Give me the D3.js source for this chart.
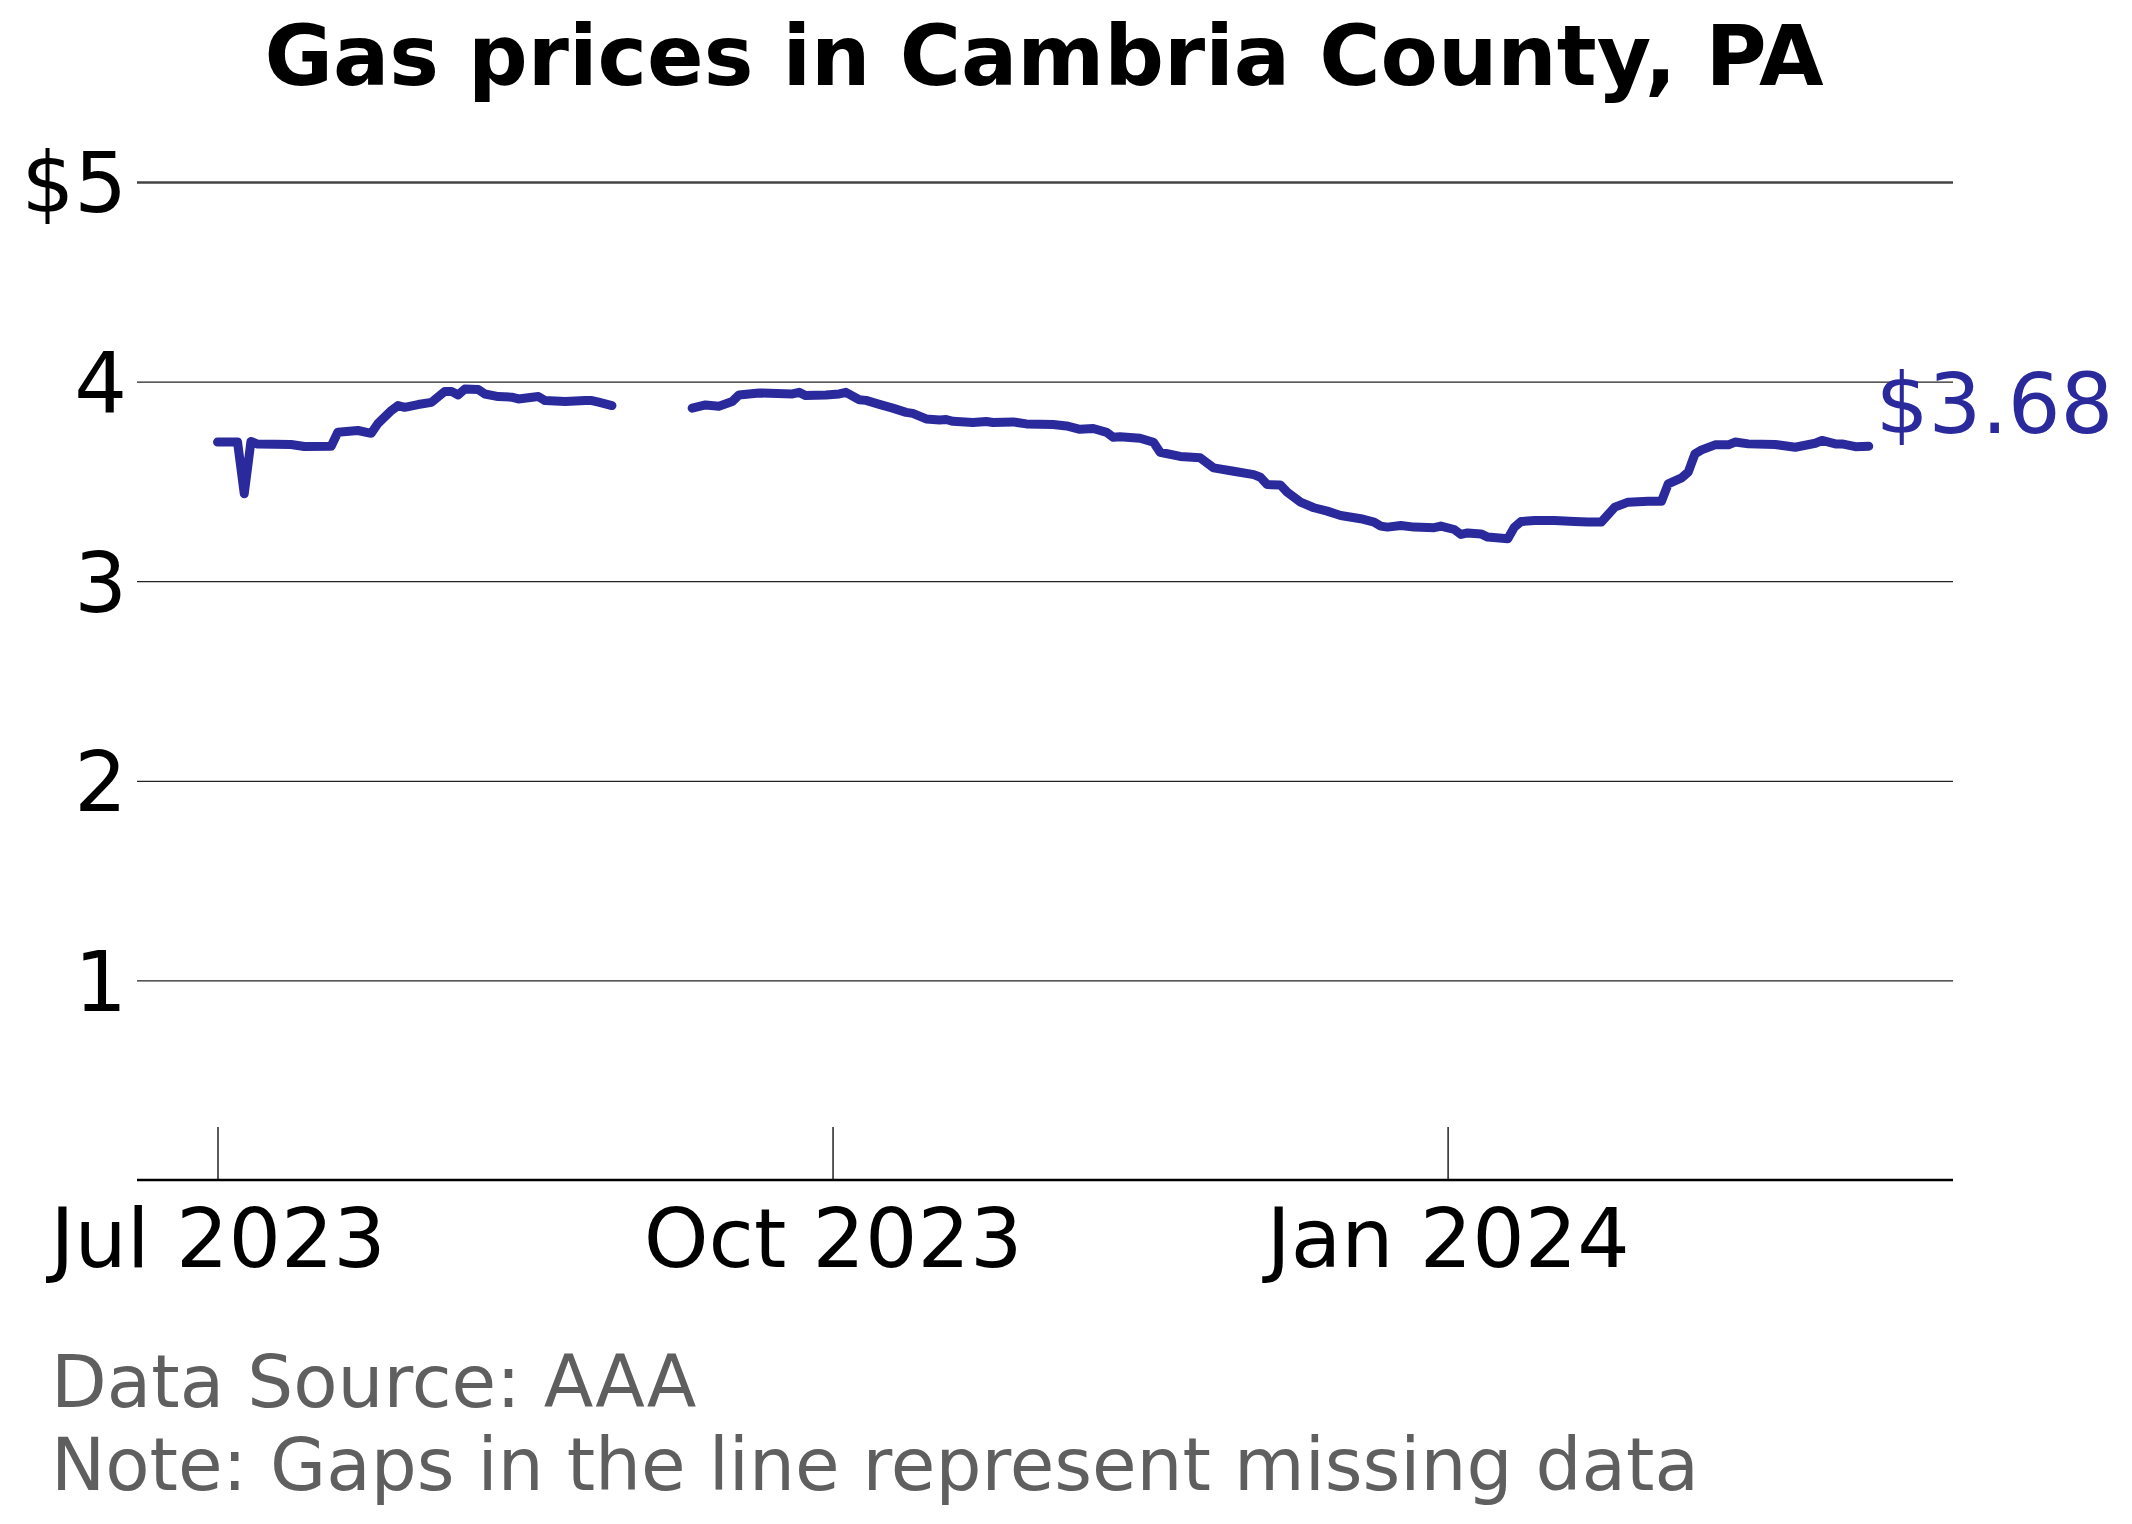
<!DOCTYPE html>
<html>
<head>
<meta charset="utf-8">
<script src="https://cdn.jsdelivr.net/npm/d3@7"></script>
<style>
  body { margin: 0; background: #fff; }
  svg { display: block; font-family: "DejaVu Sans", sans-serif; }
</style>
</head>
<body>
<div id="chart"></div>
<script>
// --- data (null = missing day, makes the gap) ---
const dates = [
  "2023-07-01","2023-07-04","2023-07-05","2023-07-06","2023-07-07","2023-07-12","2023-07-14","2023-07-18",
  "2023-07-19","2023-07-22","2023-07-24","2023-07-25","2023-07-27","2023-07-28","2023-07-29","2023-07-31",
  "2023-08-02","2023-08-04","2023-08-05","2023-08-06","2023-08-07","2023-08-09","2023-08-10","2023-08-12",
  "2023-08-14","2023-08-15","2023-08-18","2023-08-19","2023-08-22","2023-08-25","2023-08-26","2023-08-27",
  "2023-08-29",
  "2023-09-04",
  "2023-09-10","2023-09-12","2023-09-14","2023-09-16","2023-09-17","2023-09-20","2023-09-25","2023-09-26",
  "2023-09-27","2023-09-30","2023-10-02","2023-10-03","2023-10-05","2023-10-06","2023-10-08","2023-10-10",
  "2023-10-12","2023-10-13","2023-10-15","2023-10-17","2023-10-18","2023-10-19","2023-10-22","2023-10-24",
  "2023-10-25","2023-10-28","2023-10-30","2023-11-03","2023-11-05","2023-11-07","2023-11-09","2023-11-11",
  "2023-11-12","2023-11-13","2023-11-16","2023-11-18","2023-11-19","2023-11-22","2023-11-25","2023-11-27",
  "2023-11-30","2023-12-03","2023-12-04","2023-12-05","2023-12-07","2023-12-08","2023-12-10","2023-12-12",
  "2023-12-14","2023-12-16","2023-12-19","2023-12-21","2023-12-22","2023-12-23","2023-12-25","2023-12-27",
  "2023-12-30","2023-12-31","2024-01-02","2024-01-03","2024-01-04","2024-01-06","2024-01-07","2024-01-10",
  "2024-01-11","2024-01-12","2024-01-14","2024-01-17","2024-01-20","2024-01-22","2024-01-24","2024-01-26",
  "2024-01-28","2024-01-31","2024-02-02","2024-02-03","2024-02-05","2024-02-06","2024-02-07","2024-02-08",
  "2024-02-10","2024-02-12","2024-02-13","2024-02-15","2024-02-19","2024-02-22","2024-02-25","2024-02-26",
  "2024-02-28","2024-02-29","2024-03-02","2024-03-04"
];
const prices = [
  3.697,3.697,3.438,3.700,3.687,3.685,3.675,3.676,
  3.746,3.755,3.741,3.790,3.855,3.880,3.871,3.885,
  3.896,3.951,3.951,3.933,3.963,3.960,3.938,3.925,
  3.922,3.913,3.925,3.905,3.900,3.905,3.905,3.897,
  3.880,
  null,
  3.867,3.883,3.877,3.900,3.933,3.943,3.938,3.946,
  3.930,3.933,3.938,3.946,3.909,3.906,3.886,3.867,
  3.846,3.841,3.813,3.808,3.810,3.801,3.795,3.800,
  3.795,3.798,3.788,3.785,3.778,3.761,3.765,3.746,
  3.721,3.724,3.716,3.696,3.646,3.625,3.618,3.568,
  3.551,3.534,3.521,3.484,3.482,3.446,3.396,3.368,
  3.351,3.329,3.313,3.296,3.276,3.271,3.279,3.271,
  3.268,3.276,3.259,3.234,3.242,3.237,3.221,3.213,
  3.271,3.299,3.304,3.304,3.299,3.296,3.296,3.371,
  3.396,3.400,3.401,3.488,3.518,3.547,3.638,3.658,
  3.683,3.683,3.697,3.688,3.685,3.671,3.691,3.705,
  3.688,3.688,3.674,3.676
];

const xTickDates = ["2023-07-01", "2023-10-01", "2024-01-01"];
const xTickLabels = ["Jul 2023", "Oct 2023", "Jan 2024"];
const yTicks = [1, 2, 3, 4, 5];
const yTickLabels = ["1", "2", "3", "4", "$5"];

const titleText = "Gas prices in Cambria County, PA";
const noteLines = ["Data Source: AAA", "Note: Gaps in the line represent missing data"];

// --- setup ---
const width = 2132;
const height = 1524;
const lineColor = "#2b2a9c";
const plotLeft = 137, plotRight = 1953;

const parse = d3.utcParse("%Y-%m-%d");
const series = dates.map((d, i) => ({ date: parse(d), value: prices[i] }));

const svg = d3.select("#chart").append("svg")
  .attr("width", width)
  .attr("height", height);

// time scale pinned on the Jul 2023 / Jan 2024 ticks
const x = d3.scaleUtc()
  .domain([parse("2023-07-01"), parse("2024-01-01")])
  .range([217.5, 1447.6]);

const y = d3.scaleLinear()
  .domain([0, 5])
  .range([1180, 182]);

// title
svg.append("text")
  .attr("x", 1044)
  .attr("y", 85)
  .attr("text-anchor", "middle")
  .attr("font-size", 83.5)
  .attr("font-weight", "bold")
  .attr("fill", "#000")
  .text(titleText);

// horizontal grid + y labels
const yAxis = d3.axisLeft(y)
  .tickValues(yTicks)
  .tickSize(0)
  .tickPadding(10)
  .tickFormat((d, i) => yTickLabels[i]);

const yg = svg.append("g")
  .attr("transform", `translate(${plotLeft},0)`)
  .call(yAxis);
yg.select(".domain").remove();
yg.selectAll(".tick text")
  .attr("font-size", 83)
  .attr("font-family", "DejaVu Sans")
  .attr("fill", "#000")
  .attr("dy", "0.36em");
yg.selectAll(".tick").append("line")
  .attr("x1", 0)
  .attr("x2", plotRight - plotLeft)
  .attr("stroke", d => d === 5 ? "#444" : "#222")
  .attr("stroke-width", d => d === 5 ? 2.7 : 1.3);

// x axis: ticks point up into the plot
const xAxis = d3.axisBottom(x)
  .tickValues(xTickDates.map(parse))
  .tickSizeInner(-53)
  .tickSizeOuter(0)
  .tickPadding(24)
  .tickFormat((d, i) => xTickLabels[i]);

const xg = svg.append("g")
  .attr("transform", `translate(0,${y(0)})`)
  .call(xAxis);
xg.select(".domain").remove();
xg.selectAll(".tick line").attr("stroke", "#000").attr("stroke-width", 1.3);
xg.selectAll(".tick text")
  .attr("font-size", 82.5)
  .attr("font-family", "DejaVu Sans")
  .attr("fill", "#000")
  .attr("dy", "0.76em");

xg.append("line")
  .attr("x1", plotLeft)
  .attr("x2", plotRight)
  .attr("stroke", "#000")
  .attr("stroke-width", 2.7);

// price line
const line = d3.line()
  .defined(d => d.value !== null)
  .x(d => x(d.date))
  .y(d => y(d.value));

svg.append("path")
  .datum(series)
  .attr("fill", "none")
  .attr("stroke", lineColor)
  .attr("stroke-width", 9)
  .attr("stroke-linejoin", "round")
  .attr("stroke-linecap", "round")
  .attr("d", line);

// end label
const last = series[series.length - 1];
svg.append("text")
  .attr("x", x(last.date) + 7)
  .attr("y", y(last.value) - 13)
  .attr("font-size", 83)
  .attr("fill", lineColor)
  .text("$" + last.value.toFixed(2));

// footer notes
svg.selectAll(".note")
  .data(noteLines)
  .enter()
  .append("text")
  .attr("class", "note")
  .attr("x", 51)
  .attr("y", (d, i) => 1407 + i * 82.5)
  .attr("font-size", 72.5)
  .attr("fill", "#5f5f5f")
  .text(d => d);
</script>
</body>
</html>
